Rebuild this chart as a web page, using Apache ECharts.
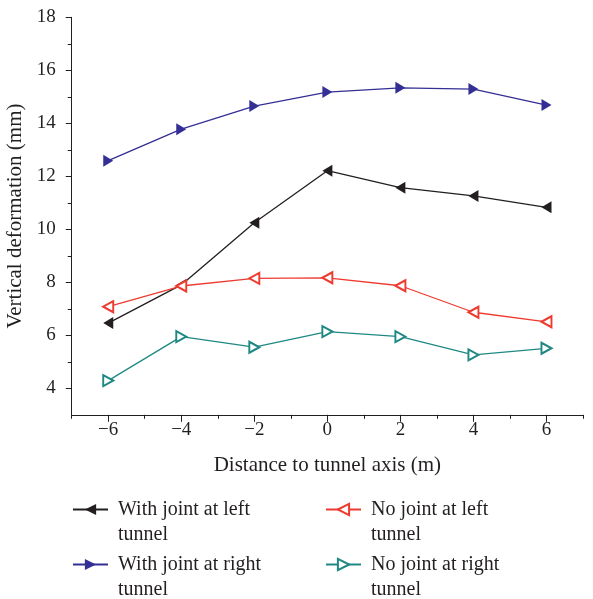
<!DOCTYPE html>
<html>
<head>
<meta charset="utf-8">
<script src="https://cdn.jsdelivr.net/npm/echarts@6/dist/echarts.min.js"></script>
<style>
html,body{margin:0;padding:0;background:#fff;}
#chart{width:593px;height:599px;}
</style>
</head>
<body>
<div id="chart"></div>
<script>
// ---- data ----
const xValues = [-6, -4, -2, 0, 2, 4, 6];
const withJointLeft = [6.46, 7.90, 10.25, 12.21, 11.57, 11.26, 10.83];
const withJointRight = [12.59, 13.78, 14.65, 15.18, 15.34, 15.29, 14.69];
const noJointLeft = [7.08, 7.86, 8.15, 8.17, 7.87, 6.87, 6.51];
const noJointRight = [4.29, 5.95, 5.55, 6.14, 5.95, 5.26, 5.51];
const seriesNames = ['With joint at left tunnel', 'No joint at left tunnel', 'With joint at right tunnel', 'No joint at right tunnel'];
const xMajorTicks = [-6, -4, -2, 0, 2, 4, 6];
const xMinorTicks = [-7, -5, -3, -1, 1, 3, 5, 7];
const yMajorTicks = [4, 6, 8, 10, 12, 14, 16, 18];
const yMinorTicks = [5, 7, 9, 11, 13, 15, 17];
const xTitle = 'Distance to tunnel axis (m)';
const yTitle = 'Vertical deformation (mm)';

const pairs = arr => xValues.map((x, i) => [x, arr[i]]);
const FONT = '"Liberation Serif", "DejaVu Serif", serif';
const AX = '#231f20';
const colors = ['#231f20', '#ee3b30', '#342f95', '#1f8883'];

const chart = echarts.init(document.getElementById('chart'), null, {renderer: 'canvas'});

function legendFor(name, left, top) {
  return {
    data: [name], left: left, top: top, padding: 0, orient: 'vertical',
    itemWidth: 35, itemHeight: 14, selectedMode: false,
    formatter: n => '\n' + n.replace(/ tunnel$/, '\ntunnel'),
    textStyle: {fontFamily: FONT, fontSize: 20, color: '#231f20', lineHeight: 25, padding: [0, 0, 0, 5]}
  };
}

const option = {
  backgroundColor: '#fff',
  animation: false,
  textStyle: {fontFamily: FONT},
  grid: {left: 71.7, right: 10, top: 17.3, bottom: 184.2, containLabel: false, outerBoundsMode: 'none'},
  legend: [
    legendFor(seriesNames[0], 72, 472),
    legendFor(seriesNames[1], 325, 472),
    legendFor(seriesNames[2], 72, 527),
    legendFor(seriesNames[3], 325, 527)
  ],
  xAxis: [{
    type: 'value', min: -7, max: 7, position: 'bottom',
    name: xTitle, nameLocation: 'middle', nameGap: 40,
    nameTextStyle: {fontFamily: FONT, fontSize: 21, color: '#231f20'},
    axisLine: {show: true, onZero: false, lineStyle: {color: AX, width: 1}},
    axisTick: {show: true, inside: false, length: 7, customValues: xMajorTicks, lineStyle: {color: AX}},
    axisLabel: {show: true, margin: 6, customValues: xMajorTicks, fontFamily: FONT, fontSize: 19, color: '#231f20',
      formatter: v => String(v).replace('-', '\u2212')},
    splitLine: {show: false}
  }, {
    type: 'value', min: -7, max: 7, position: 'bottom',
    axisLine: {show: false, onZero: false},
    axisTick: {show: true, inside: false, length: 4, customValues: xMinorTicks, lineStyle: {color: AX}},
    axisLabel: {show: false, customValues: xMinorTicks},
    splitLine: {show: false}
  }],
  yAxis: [{
    type: 'value', min: 3, max: 18, position: 'left',
    name: yTitle, nameLocation: 'middle', nameGap: 41,
    nameTextStyle: {fontFamily: FONT, fontSize: 21, color: '#231f20'},
    axisLine: {show: true, onZero: false, lineStyle: {color: AX, width: 1}},
    axisTick: {show: true, inside: false, length: 6, customValues: yMajorTicks, lineStyle: {color: AX}},
    axisLabel: {show: true, margin: 16, customValues: yMajorTicks, fontFamily: FONT, fontSize: 19, color: '#231f20'},
    splitLine: {show: false}
  }, {
    type: 'value', min: 3, max: 18, position: 'left',
    axisLine: {show: false, onZero: false},
    axisTick: {show: true, inside: false, length: 4, customValues: yMinorTicks, lineStyle: {color: AX}},
    axisLabel: {show: false, customValues: yMinorTicks},
    splitLine: {show: false}
  }],
  series: [
    {name: seriesNames[0], type: 'line', data: pairs(withJointLeft), symbol: 'triangle', symbolRotate: 90, symbolSize: [12, 10],
      lineStyle: {color: colors[0], width: 1.3}, itemStyle: {color: colors[0]}},
    {name: seriesNames[1], type: 'line', data: pairs(noJointLeft), symbol: 'emptyTriangle', symbolRotate: 90, symbolSize: [11, 10],
      lineStyle: {color: colors[1], width: 1.3}, itemStyle: {color: colors[1], borderWidth: 1.3}},
    {name: seriesNames[2], type: 'line', data: pairs(withJointRight), symbol: 'triangle', symbolRotate: -90, symbolSize: [12, 10],
      lineStyle: {color: colors[2], width: 1.3}, itemStyle: {color: colors[2]}},
    {name: seriesNames[3], type: 'line', data: pairs(noJointRight), symbol: 'emptyTriangle', symbolRotate: -90, symbolSize: [11, 10],
      lineStyle: {color: colors[3], width: 1.3}, itemStyle: {color: colors[3], borderWidth: 1.3}}
  ]
};
chart.setOption(option);
</script>
</body>
</html>
